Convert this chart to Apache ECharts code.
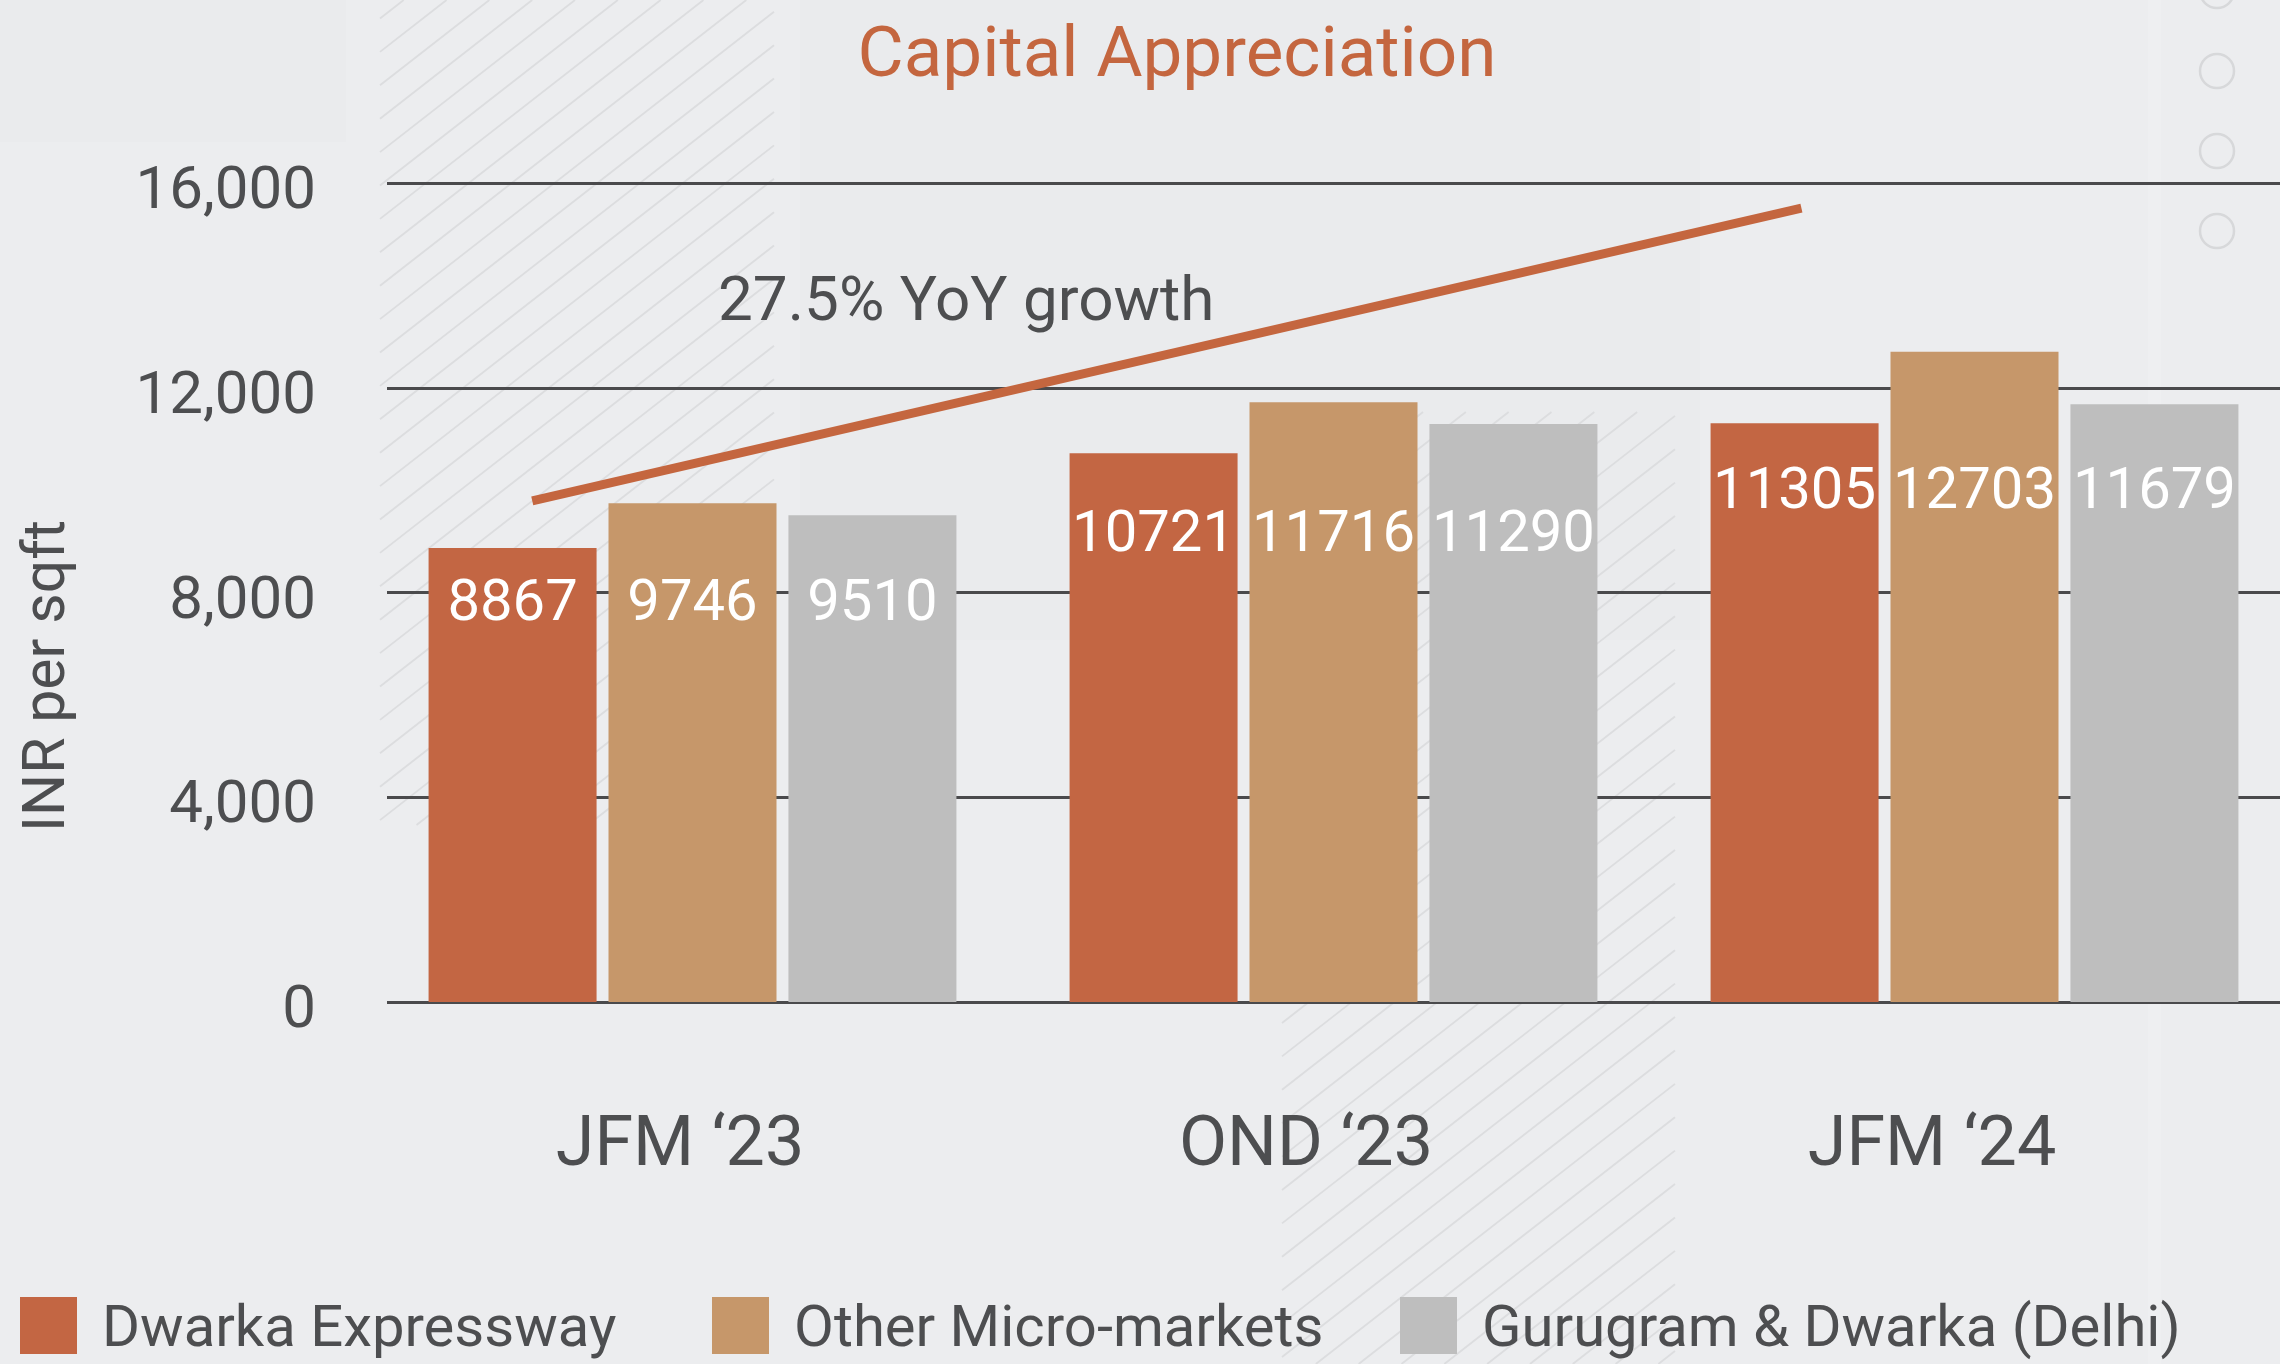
<!DOCTYPE html>
<html>
<head>
    <meta charset="utf-8">
    <title>Capital Appreciation</title>
    <script src="https://cdn.jsdelivr.net/npm/echarts@6/dist/echarts.min.js"></script>
    <style>
        html, body { margin: 0; padding: 0; background: #ecedef; }
        #main { width: 2280px; height: 1364px; }
    </style>
</head>
<body>
<div id="main"></div>
<script>
    // data
    var categories = ['JFM \u201823', 'OND \u201823', 'JFM \u201824'];
    var seriesNames = ['Dwarka Expressway', 'Other Micro-markets', 'Gurugram & Dwarka (Delhi)'];
    var dwarkaExpressway = [8867, 10721, 11305];
    var otherMicroMarkets = [9746, 11716, 12703];
    var gurugramDwarka = [9510, 11290, 11679];
    var yMin = 0, yMax = 16000, yStep = 4000;
    // trend arrow end points [category position, INR per sqft]
    var trendLine = [[-0.25, 9790], [1.73, 15510]];

    // layout
    var textColor = '#4d4e50';
    var accent = '#c4663f';
    var colors = ['#c36643', '#c6976a', '#bebebe'];
    var gridTop = 183, gridHeight = 819;
    var pxPerUnit = gridHeight / yMax;
    var labelLevel = [7740, 9100, 9940];   // where the white value labels sit in each group
    var legendLeft = [20, 712, 1400];

    function barSeries(i, values) {
        return {
            name: seriesNames[i],
            type: 'bar',
            xAxisIndex: 0,
            yAxisIndex: 0,
            barWidth: 168,
            barGap: '7.1%',
            itemStyle: {color: colors[i]},
            label: {
                show: true,
                color: '#ffffff',
                fontSize: 58,
                fontFamily: 'Roboto',
                align: 'center',
                verticalAlign: 'middle',
                formatter: '{c}'
            },
            data: values.map(function (v, k) {
                return {value: v, label: {position: ['50%', (v - labelLevel[k]) * pxPerUnit]}};
            })
        };
    }

    // hatched background panels
    function hatch(x0, x1, y0, y1, phase) {
        var s = 0.78, step = 33.4, out = [];
        var b = phase;
        while (b > y0) b -= step;
        for (; b < y1 + s * (x1 - x0); b += step) {
            var xa = Math.max(x0, x0 + (b - y1) / s);
            var xb = Math.min(x1, x0 + (b - y0) / s);
            if (xb - xa < 1) continue;
            out.push({
                type: 'line', z: -5, silent: true,
                shape: {x1: xa, y1: b - s * (xa - x0), x2: xb, y2: b - s * (xb - x0)},
                style: {stroke: '#dcdddf', lineWidth: 1.8}
            });
        }
        return out;
    }

    var graphics = [
        {type: 'rect', z: -10, silent: true, shape: {x: 0, y: 0, width: 2280, height: 1364}, style: {fill: '#ecedef'}},
        {type: 'rect', z: -9, silent: true, shape: {x: 0, y: 0, width: 346, height: 142}, style: {fill: '#eaebed'}},
        {type: 'rect', z: -9, silent: true, shape: {x: 800, y: 0, width: 900, height: 640}, style: {fill: '#eaebed'}},
        {type: 'rect', z: -9, silent: true, shape: {x: 2148, y: 0, width: 13, height: 1364}, style: {fill: '#eeeff1'}}
    ];
    graphics = graphics.concat(hatch(380, 774, 0, 825, 18.5));
    graphics = graphics.concat(hatch(1282, 1675, 412, 1364, 1023));
    [-9, 71, 151, 231].forEach(function (cy) {
        graphics.push({
            type: 'circle', z: -4, silent: true,
            shape: {cx: 2217, cy: cy, r: 17},
            style: {fill: 'none', stroke: '#d7d8da', lineWidth: 2.5}
        });
    });
    graphics.push({
        type: 'text', x: 1177, y: 58,
        style: {text: 'Capital Appreciation', fontSize: 71, fontFamily: 'Roboto', fill: accent, align: 'center', verticalAlign: 'middle'}
    });
    graphics.push({
        type: 'text', x: 718, y: 304,
        style: {text: '27.5% YoY growth', fontSize: 62, fontFamily: 'Roboto', fill: textColor, align: 'left', verticalAlign: 'middle'}
    });
    graphics.push({
        type: 'text', x: 49, y: 676, rotation: Math.PI / 2,
        style: {text: 'INR per sqft', fontSize: 59, fontFamily: 'Roboto', fill: textColor, align: 'center', verticalAlign: 'middle'}
    });

    var myChart = echarts.init(document.getElementById('main'), null, {renderer: 'canvas'});
    var option = {
        animation: false,
        backgroundColor: '#ecedef',
        textStyle: {fontFamily: 'Roboto'},
        graphic: graphics,
        legend: seriesNames.map(function (n, i) {
            return {
                left: legendLeft[i],
                top: 1297,
                padding: 0,
                data: [n],
                icon: 'rect',
                itemWidth: 57,
                itemHeight: 57,
                selectedMode: false,
                formatter: function (name) { return '{t|' + name + '}'; },
                textStyle: {
                    fontSize: 58, color: textColor, fontFamily: 'Roboto',
                    rich: {t: {fontSize: 58, color: textColor, fontFamily: 'Roboto', padding: [12, 0, 0, 20]}}
                }
            };
        }),
        grid: [
            // bars
            {left: 372, width: 1923, top: gridTop, height: gridHeight, outerBoundsMode: 'none'},
            // gridlines
            {left: 387, right: 0, top: gridTop, height: gridHeight, outerBoundsMode: 'none'},
            // category labels
            {left: 367, width: 1878, top: gridTop, height: gridHeight, outerBoundsMode: 'none'},
            // value labels, sitting a little below their gridlines
            {left: 387, right: 0, top: gridTop + 10, height: gridHeight, outerBoundsMode: 'none'}
        ],
        xAxis: [
            {type: 'category', gridIndex: 0, data: categories, show: false},
            {type: 'category', gridIndex: 1, data: categories, show: false},
            {
                type: 'category', gridIndex: 2, data: categories,
                axisLine: {show: false}, axisTick: {show: false}, splitLine: {show: false},
                axisLabel: {margin: 110, fontSize: 70, lineHeight: 70, color: textColor, fontFamily: 'Roboto'}
            },
            {type: 'value', gridIndex: 0, min: -0.5, max: 2.5, show: false},
            {type: 'category', gridIndex: 3, data: categories, show: false}
        ],
        yAxis: [
            {type: 'value', gridIndex: 0, min: yMin, max: yMax, interval: yStep, show: false},
            {
                type: 'value', gridIndex: 1, min: yMin, max: yMax, interval: yStep,
                axisLine: {show: false}, axisTick: {show: false}, axisLabel: {show: false},
                splitLine: {show: true, lineStyle: {color: '#4a4a4c', width: 3}}
            },
            {type: 'value', gridIndex: 2, min: 0, max: 1, show: false},
            {
                type: 'value', gridIndex: 3, min: yMin, max: yMax, interval: yStep,
                axisLine: {show: false}, axisTick: {show: false}, splitLine: {show: false},
                axisLabel: {
                    margin: 71, fontSize: 60, color: textColor, fontFamily: 'Roboto',
                    formatter: function (v) { return v.toLocaleString('en-US'); }
                }
            }
        ],
        series: [
            barSeries(0, dwarkaExpressway),
            barSeries(1, otherMicroMarkets),
            barSeries(2, gurugramDwarka),
            {
                type: 'line',
                xAxisIndex: 3,
                yAxisIndex: 0,
                data: trendLine,
                symbol: 'none',
                silent: true,
                lineStyle: {color: accent, width: 9, cap: 'butt'},
                z: 5
            }
        ]
    };
    myChart.setOption(option);
</script>
</body>
</html>
